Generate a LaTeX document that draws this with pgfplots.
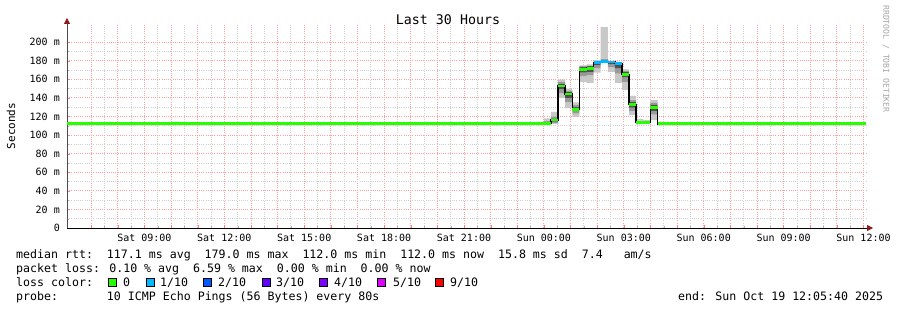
\documentclass[border=0pt]{standalone}
\usepackage{fontspec}
\setmainfont{DejaVu Sans Mono}
\usepackage{pgfplots}
\pgfplotsset{compat=1.18}
\usepackage{pgfplotstable}
\usetikzlibrary{arrows.meta}

\definecolor{loss0}{HTML}{26FF00}
\definecolor{loss1}{HTML}{00B8FF}
\definecolor{loss2}{HTML}{0059FF}
\definecolor{loss3}{HTML}{5E00FF}
\definecolor{loss4}{HTML}{7E00FF}
\definecolor{loss5}{HTML}{DD00FF}
\definecolor{loss9}{HTML}{FF0000}
\definecolor{smokeA}{HTML}{C8C8C8}
\definecolor{smokeB}{HTML}{999999}
\definecolor{smokeC}{HTML}{505050}
\definecolor{mgrid}{HTML}{FF9F9F}
\definecolor{mingrid}{HTML}{CFCFCF}
\definecolor{arrowred}{HTML}{8B1A1A}

% median rtt (value held from x to next x)
\pgfplotstableread{
x y
6.0944 112.1
24.0 112.7
24.2667 116.1
24.5333 152.7
24.8 144.0
25.0667 127.6
25.3333 170.6
25.6 171.8
25.8667 177.8
26.1333 179.2
26.4 178.6
26.6667 176.7
26.9333 165.2
27.2 132.6
27.4667 113.6
27.7333 113.6
28.0 129.4
28.2667 112.1
36.0944 112.1
}\median

% median steps with 1/10 loss
\pgfplotstableread{
x y
25.8667 177.8
26.1333 179.2
26.4 178.6
26.6667 176.7
26.9333 176.7
}\blueloss

% smoke per 16-minute step (x = step centre):
% outer lo..hi, middle mlo..mhi, inner ilo..ihi
\pgfplotstableread{
x lo mlo ilo ihi mhi hi
10.205 112 112 112 112 112 114.3
23.8667 112 112 112 112 112 114.5
24.1333 112 112 112 114 115 118
24.4 112 113 114.5 118 120 125
24.6667 140 145 149 155 157 159.5
24.9333 129 135 140 146.5 148 150
25.2 119.5 123 125.5 130 132 135
25.4667 157 163 167 173 174 175
25.7333 156 164 168 174 175 176
26.0 167 172 175 179 179.5 180.5
26.2667 178 178.5 178.5 180.5 182 216
26.5333 168 173 176 179 179 179
26.8 156 166 172 178 178 179
27.0667 148.4 157 162 168 169 170.6
27.3333 121.5 126 129.5 135.5 138 142
27.6 112.5 112.5 113 114.5 115.5 117
27.8667 112.5 112.5 113 114.5 115 116
28.1333 116 122 126 133 135 137.6
}\smoke

\begin{document}
\begin{tikzpicture}
\fill[white] (0pt,0pt) rectangle (897pt,310pt);
\path[use as bounding box] (0pt,0pt) rectangle (897pt,310pt);
\begin{axis}[
  at={(67pt,82pt)}, anchor=south west,
  scale only axis, width=799pt, height=203pt,
  xmin=6.0944, xmax=36.0944, ymin=0, ymax=218.3,
  enlargelimits=false,
  axis x line=bottom, axis y line=left,
  x axis line style={black, line width=0.8pt, -{Triangle[length=6pt,width=6pt,color=arrowred]}, shorten >=-7pt},
  y axis line style={black!70, line width=0.8pt, -{Triangle[length=6pt,width=6pt,color=arrowred]}, shorten >=-7pt},
  xtick={7,8,...,36},
  xticklabels={,,Sat 09:00,,,Sat 12:00,,,Sat 15:00,,,Sat 18:00,,,Sat 21:00,,,Sun 00:00,,,Sun 03:00,,,Sun 06:00,,,Sun 09:00,,,Sun 12:00},
  minor x tick num=1,
  ytick={0,20,...,200},
  yticklabels={0,20 m,40 m,60 m,80 m,100 m,120 m,140 m,160 m,180 m,200 m},
  minor y tick num=1,
  grid=both,
  major grid style={mgrid, line width=0.8pt, dash pattern=on 1pt off 1.2pt},
  minor grid style={mingrid, line width=0.8pt, dash pattern=on 1pt off 1.2pt},
  tick align=inside,
  major tick length=3pt, minor tick length=2pt,
  major tick style={mgrid!80!red},
  minor tick style={gray!60},
  ticklabel style={font=\fontsize{10pt}{12pt}\selectfont, text=black},
  xticklabel style={anchor=base, inner sep=0pt, yshift=-14pt},
  yticklabel style={anchor=east, inner sep=0pt, xshift=-7pt},
  smoke/.style={ybar, bar width=0.2667, bar shift=0pt, stack plots=y, draw=none},
]
% smoke as stacked bands
\addplot[smoke, fill=none] table[x=x, y=lo]{\smoke};
\addplot[smoke, fill=smokeA] table[x=x, y expr=\thisrow{mlo}-\thisrow{lo}]{\smoke};
\addplot[smoke, fill=smokeB] table[x=x, y expr=\thisrow{ilo}-\thisrow{mlo}]{\smoke};
\addplot[smoke, fill=smokeC] table[x=x, y expr=\thisrow{ihi}-\thisrow{ilo}]{\smoke};
\addplot[smoke, fill=smokeB] table[x=x, y expr=\thisrow{mhi}-\thisrow{ihi}]{\smoke};
\addplot[smoke, fill=smokeA] table[x=x, y expr=\thisrow{hi}-\thisrow{mhi}]{\smoke};
% median
\addplot[black, line width=1.5pt, const plot mark left, mark=none] table[x=x,y=y]{\median};
\addplot[loss0, line width=2.7pt, jump mark left, mark=none] table[x=x,y=y]{\median};
\addplot[loss1, line width=2.7pt, jump mark left, mark=none] table[x=x,y=y]{\blueloss};
\end{axis}

% title
\node[anchor=base, font=\fontsize{13.3pt}{15pt}\selectfont] at (448pt,285.5pt) {Last 30 Hours};
% y label
\node[rotate=90, font=\fontsize{11pt}{13pt}\selectfont] at (11pt,184pt) {Seconds};
% watermark
\node[rotate=-90, text=black!35, font=\fontsize{8.1pt}{9pt}\selectfont] at (886pt,251pt) {RRDTOOL / TOBI OETIKER};

% legend / statistics
\begin{scope}[every node/.style={anchor=base west, inner sep=0pt, font=\fontsize{11.6pt}{14pt}\selectfont}]
\node at (16pt,51.5pt) {median rtt:\ \ 117.1 ms avg\ \ 179.0 ms max\ \ 112.0 ms min\ \ 112.0 ms now\ \ 15.8 ms sd\ \ 7.4\ \ \ am/s};
\node at (16pt,37.5pt) {packet loss: 0.10 \% avg\ \ 6.59 \% max\ \ 0.00 \% min\ \ 0.00 \% now};
\node at (16pt,23.7pt) {loss color:};
\node at (123pt,23.7pt) {0};
\node at (160pt,23.7pt) {1/10};
\node at (218pt,23.7pt) {2/10};
\node at (276pt,23.7pt) {3/10};
\node at (334pt,23.7pt) {4/10};
\node at (393pt,23.7pt) {5/10};
\node at (450pt,23.7pt) {9/10};
\node at (16pt,9.8pt) {probe:\ \ \ \ \ \ \ 10 ICMP Echo Pings (56 Bytes) every 80s};
\node at (678pt,9.8pt) {end: Sun Oct 19 12:05:40 2025};
\end{scope}
\begin{scope}[every node/.style={draw=black, line width=0.8pt, inner sep=0pt, minimum size=8pt}]
\node[fill=loss0] at (112pt,28pt) {};
\node[fill=loss1] at (150pt,28pt) {};
\node[fill=loss2] at (207pt,28pt) {};
\node[fill=loss3] at (266pt,28pt) {};
\node[fill=loss4] at (323pt,28pt) {};
\node[fill=loss5] at (381pt,28pt) {};
\node[fill=loss9] at (439pt,28pt) {};
\end{scope}
\end{tikzpicture}
\end{document}
